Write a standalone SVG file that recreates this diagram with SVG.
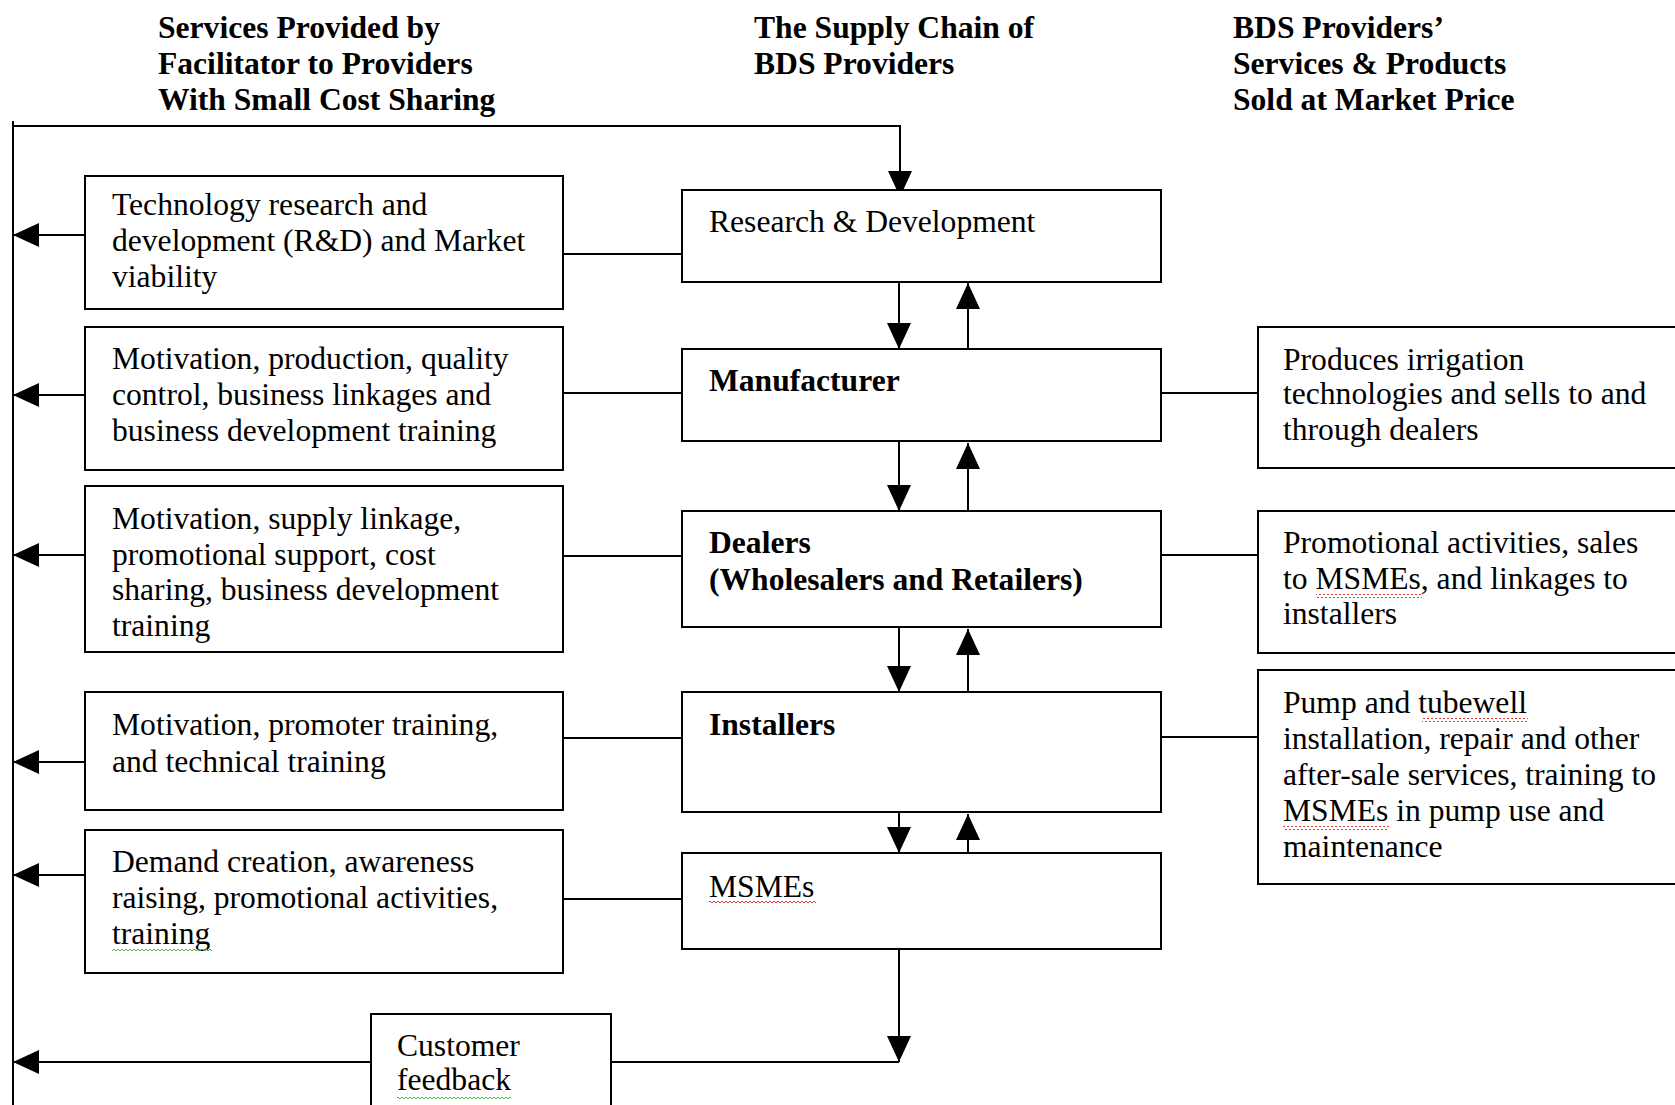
<svg xmlns="http://www.w3.org/2000/svg" width="1675" height="1105" viewBox="0 0 1675 1105">
<style>
.box{fill:#fff;stroke:#000;stroke-width:2}
.t{font-family:"Liberation Serif","Times New Roman",serif;font-size:31.6px;fill:#000}
.b{font-weight:bold}
.ln{stroke:#000;stroke-width:2;fill:none}
.arr{marker-end:url(#ah)}
</style>
<defs>
<marker id="ah" markerUnits="userSpaceOnUse" markerWidth="26" markerHeight="24" viewBox="0 0 26 24" refX="26" refY="12" orient="auto">
<path d="M0,0 L26,12 L0,24 z" fill="#000"/>
</marker>
<pattern id="wr" width="4" height="4" patternUnits="userSpaceOnUse"><path d="M0,3 L2,1 L4,3" stroke="#d22" fill="none" stroke-width="0.9"/></pattern>
<pattern id="wg" width="4" height="4" patternUnits="userSpaceOnUse"><path d="M0,3 L2,1 L4,3" stroke="#3a3" fill="none" stroke-width="0.9"/></pattern>
</defs>
<rect width="1675" height="1105" fill="#fff"/>

<g id="headers">
<text class="t b" x="158" y="38">Services Provided by</text>
<text class="t b" x="158" y="74">Facilitator to Providers</text>
<text class="t b" x="158" y="110">With Small Cost Sharing</text>
<text class="t b" x="754" y="38">The Supply Chain of</text>
<text class="t b" x="754" y="74">BDS Providers</text>
<text class="t b" x="1233" y="38">BDS Providers’</text>
<text class="t b" x="1233" y="74">Services &amp; Products</text>
<text class="t b" x="1233" y="110">Sold at Market Price</text>
</g>

<g id="connectors">
<path class="ln" d="M13,121 V1105"/>
<path class="ln arr" d="M13,126 H900 V197"/>
<path class="ln arr" d="M85,235 H13"/>
<path class="ln arr" d="M85,395 H13"/>
<path class="ln arr" d="M85,555 H13"/>
<path class="ln arr" d="M85,762 H13"/>
<path class="ln arr" d="M85,875 H13"/>
<path class="ln arr" d="M371,1062 H13"/>
<path class="ln" d="M563,254 H682"/>
<path class="ln" d="M563,393 H682"/>
<path class="ln" d="M563,556 H682"/>
<path class="ln" d="M563,738 H682"/>
<path class="ln" d="M563,899 H682"/>
<path class="ln" d="M1161,393 H1258"/>
<path class="ln" d="M1161,555 H1258"/>
<path class="ln" d="M1161,737 H1258"/>
<path class="ln arr" d="M899,282 V349"/>
<path class="ln arr" d="M899,441 V511"/>
<path class="ln arr" d="M899,627 V692"/>
<path class="ln arr" d="M899,812 V853"/>
<path class="ln arr" d="M968,349 V283"/>
<path class="ln arr" d="M968,511 V443"/>
<path class="ln arr" d="M968,692 V629"/>
<path class="ln arr" d="M968,853 V814"/>
<path class="ln arr" d="M899,949 V1062"/>
<path class="ln" d="M611,1062 H899"/>
</g>

<g id="svc-rd">
<rect class="box" x="85" y="176" width="478" height="133"/>
<text class="t" x="112" y="215">Technology research and</text>
<text class="t" x="112" y="251">development (R&amp;D) and Market</text>
<text class="t" x="112" y="287">viability</text>
</g>
<g id="svc-manufacturer">
<rect class="box" x="85" y="327" width="478" height="143"/>
<text class="t" x="112" y="369">Motivation, production, quality</text>
<text class="t" x="112" y="405">control, business linkages and</text>
<text class="t" x="112" y="441">business development training</text>
</g>
<g id="svc-dealers">
<rect class="box" x="85" y="486" width="478" height="166"/>
<text class="t" x="112" y="529">Motivation, supply linkage,</text>
<text class="t" x="112" y="565">promotional support, cost</text>
<text class="t" x="112" y="600">sharing, business development</text>
<text class="t" x="112" y="636">training</text>
</g>
<g id="svc-installers">
<rect class="box" x="85" y="692" width="478" height="118"/>
<text class="t" x="112" y="735">Motivation, promoter training,</text>
<text class="t" x="112" y="772">and technical training</text>
</g>
<g id="svc-msmes">
<rect class="box" x="85" y="830" width="478" height="143"/>
<text class="t" x="112" y="872">Demand creation, awareness</text>
<text class="t" x="112" y="908">raising, promotional activities,</text>
<text class="t" x="112" y="944">training</text>
<rect x="112" y="949" width="100" height="4" fill="url(#wg)"/>
</g>

<g id="rd">
<rect class="box" x="682" y="190" width="479" height="92"/>
<text class="t" x="709" y="232">Research &amp; Development</text>
</g>
<g id="manufacturer">
<rect class="box" x="682" y="349" width="479" height="92"/>
<text class="t b" x="709" y="391">Manufacturer</text>
</g>
<g id="dealers">
<rect class="box" x="682" y="511" width="479" height="116"/>
<text class="t b" x="709" y="553">Dealers</text>
<text class="t b" x="709" y="590">(Wholesalers and Retailers)</text>
</g>
<g id="installers">
<rect class="box" x="682" y="692" width="479" height="120"/>
<text class="t b" x="709" y="735">Installers</text>
</g>
<g id="msmes">
<rect class="box" x="682" y="853" width="479" height="96"/>
<text class="t" x="709" y="897">MSMEs</text>
<rect x="709" y="901" width="107" height="4" fill="url(#wr)"/>
</g>

<g id="prod-manufacturer">
<rect class="box" x="1258" y="327" width="440" height="141"/>
<text class="t" x="1283" y="370">Produces irrigation</text>
<text class="t" x="1283" y="404">technologies and sells to and</text>
<text class="t" x="1283" y="440">through dealers</text>
</g>
<g id="prod-dealers">
<rect class="box" x="1258" y="511" width="440" height="142"/>
<text class="t" x="1283" y="553">Promotional activities, sales</text>
<text class="t" x="1283" y="589">to MSMEs, and linkages to</text>
<text class="t" x="1283" y="624">installers</text>
<rect x="1316" y="594" width="106" height="4" fill="url(#wr)"/>
</g>
<g id="prod-installers">
<rect class="box" x="1258" y="670" width="440" height="214"/>
<text class="t" x="1283" y="713">Pump and tubewell</text>
<text class="t" x="1283" y="749">installation, repair and other</text>
<text class="t" x="1283" y="785">after-sale services, training to</text>
<text class="t" x="1283" y="821">MSMEs in pump use and</text>
<text class="t" x="1283" y="857">maintenance</text>
<rect x="1422" y="718" width="106" height="4" fill="url(#wr)"/>
<rect x="1283" y="826" width="106" height="4" fill="url(#wr)"/>
</g>

<g id="feedback">
<rect class="box" x="371" y="1014" width="240" height="110"/>
<text class="t" x="397" y="1056">Customer</text>
<text class="t" x="397" y="1090">feedback</text>
<rect x="397" y="1095" width="114" height="4" fill="url(#wg)"/>
</g>
</svg>
